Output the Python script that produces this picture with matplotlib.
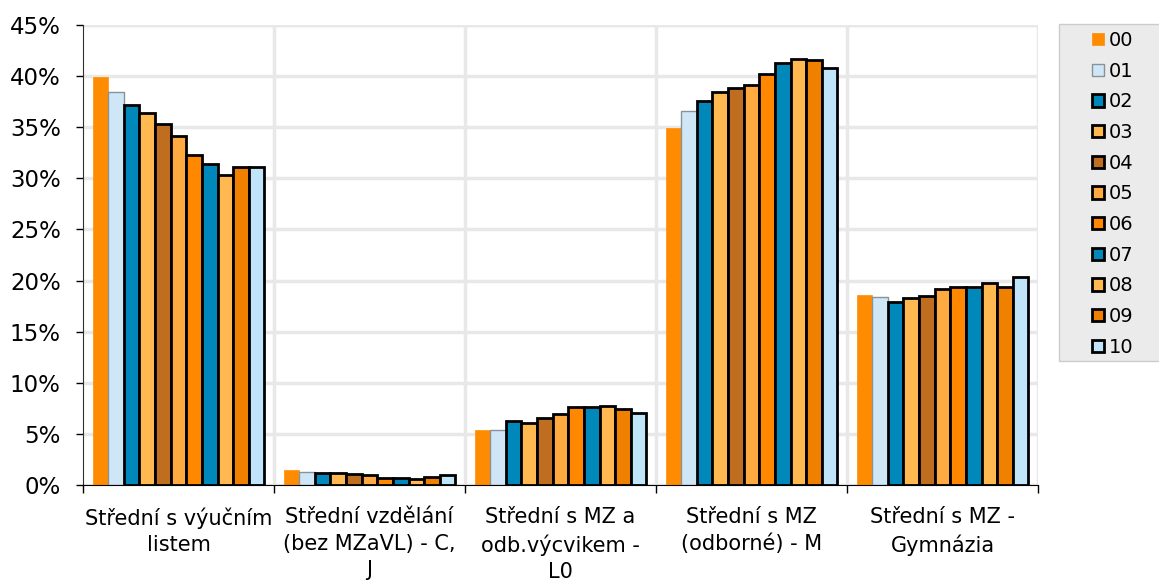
import numpy as np
import matplotlib.pyplot as plt
from matplotlib.patches import Rectangle

categories = ['Střední s výučním\nlistem', 'Střední vzdělání\n(bez MZaVL) - C,\nJ',
              'Střední s MZ a\nodb.výcvikem -\nL0', 'Střední s MZ\n(odborné) - M', 'Střední s MZ -\nGymnázia']
years = ['00', '01', '02', '03', '04', '05', '06', '07', '08', '09', '10']

# share in % per year, one list per category
v_vyucni = [39.9, 38.4, 37.2, 36.4, 35.3, 34.1, 32.3, 31.4, 30.3, 31.1, 31.1]
v_cj = [1.5, 1.3, 1.2, 1.15, 1.1, 0.95, 0.65, 0.65, 0.62, 0.75, 1.0]
v_l0 = [5.4, 5.35, 6.3, 6.1, 6.55, 6.9, 7.65, 7.6, 7.7, 7.4, 7.05]
v_m = [34.95, 36.6, 37.6, 38.4, 38.85, 39.15, 40.2, 41.25, 41.7, 41.55, 40.8]
v_gym = [18.55, 18.4, 17.9, 18.25, 18.5, 19.2, 19.35, 19.35, 19.8, 19.4, 20.3]

data = np.array([v_vyucni, v_cj, v_l0, v_m, v_gym])

colors = ['#FF8C00', '#CFE6F6', '#0088BB', '#FFB950', '#BF6E1F', '#FFAA40',
          '#FF8800', '#0088BB', '#FFB950', '#F08000', '#C0E4FA']
edges = ['#FF8C00', '#8A9299'] + ['black'] * 9
lws = [0.5, 1.0] + [2.0] * 9

W, H = 1159, 581
fig = plt.figure(figsize=(W / 100, H / 100), dpi=100)
ax = fig.add_axes([83 / W, 1 - 485 / H, (1038 - 83) / W, 460 / H])

n = len(years)
x = np.arange(len(categories))
w = 0.9 / n
for i in range(n):
    ax.bar(x - 0.45 + w * (i + 0.5), data[:, i], width=w, color=colors[i],
           edgecolor=edges[i], linewidth=lws[i], label=years[i], zorder=3)

ax.set_xlim(-0.5, len(categories) - 0.5)
ax.set_ylim(0, 45)
ax.set_yticks(np.arange(0, 46, 5))
ax.set_yticklabels([f'{t}%' for t in range(0, 46, 5)], fontsize=16.5)

ax.set_xticks(x)
ax.set_xticklabels(categories, fontsize=15, va='top', linespacing=1.4)
ax.tick_params(axis='x', length=0, pad=16)
ax.set_xticks(np.arange(-0.5, len(categories)), minor=True)
ax.tick_params(axis='x', which='minor', length=6, width=1, direction='out')
ax.tick_params(axis='y', length=5, width=1, direction='out', pad=11)

ax.grid(axis='y', color='#E8E8E8', linewidth=2.5, zorder=0)
for b in np.arange(0.5, len(categories)):
    ax.axvline(b, color='#E8E8E8', linewidth=2.5, zorder=0)
ax.axhline(45, color='#E8E8E8', linewidth=2.5, zorder=0)

for s in ['top', 'right']:
    ax.spines[s].set_visible(False)
ax.spines['left'].set_color('#303030')
ax.spines['bottom'].set_color('black')
ax.spines['bottom'].set_zorder(4)

# legend box runs past the right edge of the picture
fig.patches.append(Rectangle((1059 / W, 1 - 361 / H), 120 / W, 337 / H,
                             transform=fig.transFigure, facecolor='#EBEBEB',
                             edgecolor='#CCCCCC', linewidth=1, zorder=0))
leg = fig.legend(loc='upper left', bbox_to_anchor=(1092 / W, 1 - 31 / H),
                 fontsize=14, frameon=False, handlelength=0.6,
                 handleheight=0.6, handletextpad=0.25, labelspacing=0.6,
                 borderpad=0, borderaxespad=0)

fig.savefig('out.png', dpi=100)
